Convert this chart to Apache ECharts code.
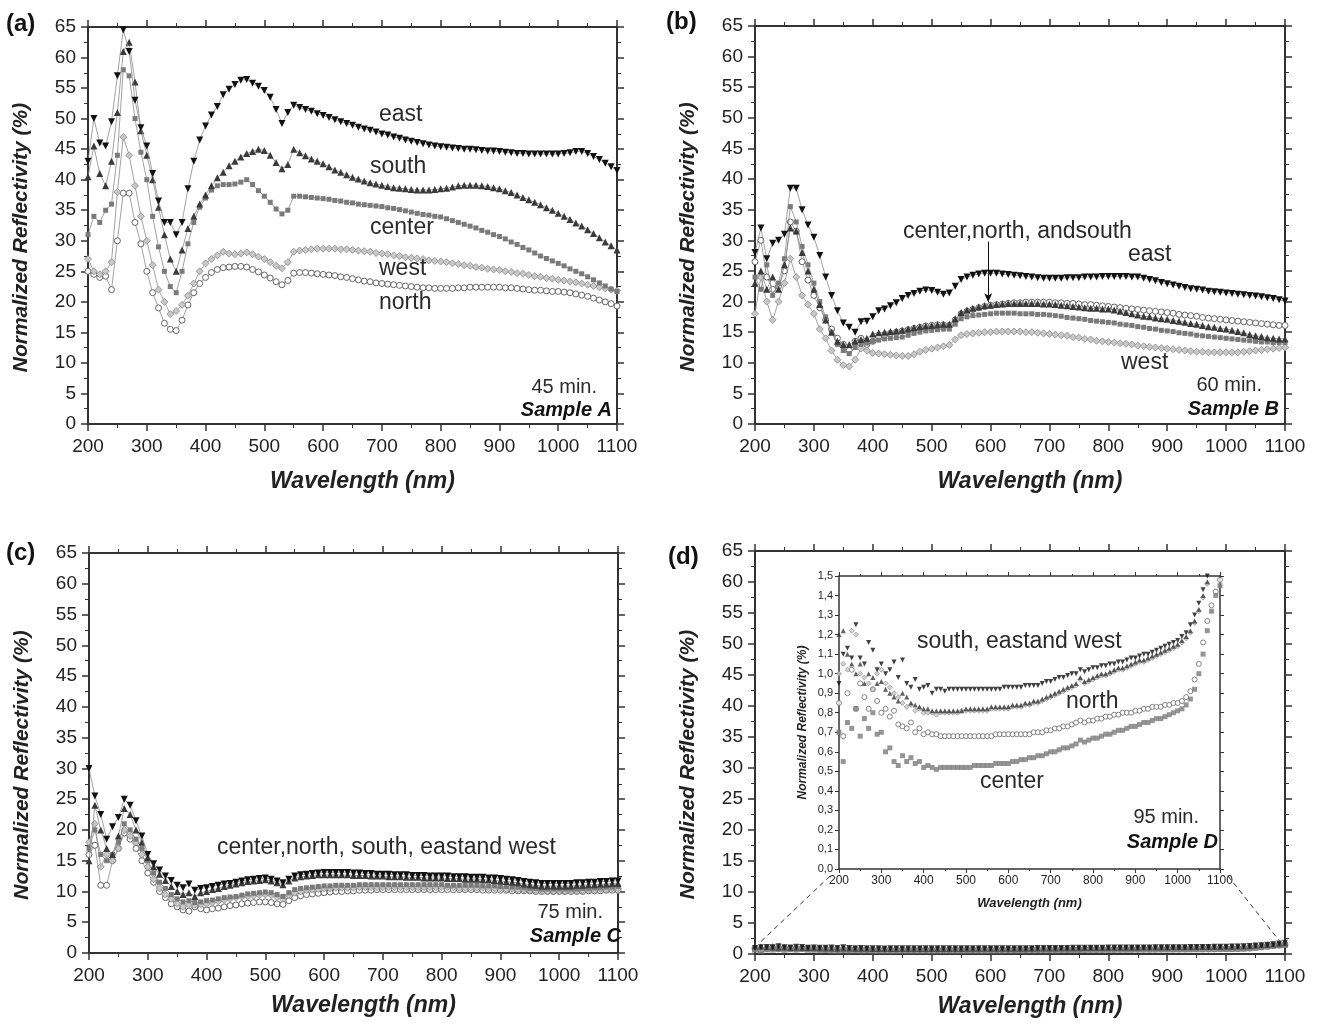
<!DOCTYPE html>
<html>
<head>
<meta charset="utf-8">
<title>Normalized reflectivity, samples A-D</title>
<script src="https://cdn.jsdelivr.net/npm/echarts@6/dist/echarts.min.js"></script>
<style>
  html, body { margin: 0; padding: 0; background: #fff; }
  #chart { width: 1325px; height: 1028px; }
</style>
</head>
<body>
<div id="chart"></div>
<script>
// wavelength grid (nm), shared by every series
const wl = [
  200, 210, 220, 230, 240, 250, 260, 270, 280, 290,
  300, 310, 320, 330, 340, 350, 360, 370, 380, 390,
  400, 410, 420, 430, 440, 450, 460, 470, 480, 490,
  500, 510, 520, 530, 540, 550, 560, 570, 580, 590,
  600, 610, 620, 630, 640, 650, 660, 670, 680, 690,
  700, 710, 720, 730, 740, 750, 760, 770, 780, 790,
  800, 810, 820, 830, 840, 850, 860, 870, 880, 890,
  900, 910, 920, 930, 940, 950, 960, 970, 980, 990,
  1000, 1010, 1020, 1030, 1040, 1050, 1060, 1070, 1080, 1090,
  1100
];

/* ---------------------------- (a) 45 min, Sample A ---------------------------- */
const aEast = [
  43, 50, 46, 45.5, 49.5, 57, 64.5, 61, 53, 48.5,
  45.5, 41, 36.5, 33, 33, 31, 33, 38.5, 43, 46.5,
  48.8, 50.6, 52, 53.9, 54.8, 55.6, 56.3, 56.4, 55.8, 55.3,
  54.6, 53.5, 51.5, 49.2, 51, 52.2, 51.8, 51.5, 51.2, 50.8,
  50.5, 50.2, 49.8, 49.5, 49.2, 48.9, 48.6, 48.3, 48.1, 47.8,
  47.5, 47.3, 47, 46.8, 46.5, 46.3, 46.1, 45.9, 45.7, 45.5,
  45.4, 45.3, 45.2, 45.1, 45, 45, 44.9, 44.8, 44.7, 44.7,
  44.6, 44.5, 44.4, 44.3, 44.3, 44.2, 44.2, 44.2, 44.2, 44.2,
  44.2, 44.3, 44.4, 44.6, 44.6, 44.3, 43.8, 43.3, 42.7, 42.1,
  41.5
];
const aSouth = [
  40.5, 45.5, 41, 39, 43, 51, 61, 62.5, 56, 48,
  44, 40, 35.5, 31, 27, 25, 28.5, 32, 34, 36,
  37.5, 39, 40.3, 41.2, 42.3, 43, 43.7, 44.3, 44.6, 45,
  44.8, 44, 42.8, 41.8, 42.5, 45, 44.4, 43.9, 43.4, 43,
  42.6, 42.1, 41.6, 41.2, 40.8, 40.4, 40.1, 39.8, 39.5, 39.3,
  39.1, 38.9, 38.7, 38.6, 38.5, 38.4, 38.3, 38.3, 38.3, 38.4,
  38.5, 38.6, 38.8, 39, 39.1, 39.1, 39.1, 39, 38.9, 38.7,
  38.5, 38.2, 37.9, 37.5, 37.1, 36.7, 36.3, 35.9, 35.4, 35,
  34.5, 34, 33.5, 32.9, 32.4, 31.8, 31.2, 30.5, 29.8, 29.2,
  28.5
];
const aCenter = [
  31, 34, 33, 35, 36, 44, 58, 57, 50, 44.5,
  40, 34, 29, 25, 22.5, 21.5, 25, 29.5, 33, 35.5,
  37, 38.3, 39, 39.2, 39.2, 39.3, 39.6, 40, 39.2, 38.2,
  37.3, 36.3, 35.2, 34.4, 35, 37.3, 37.3, 37.2, 37.1, 37,
  36.9, 36.8, 36.6, 36.5, 36.3, 36.2, 36, 35.9, 35.8, 35.7,
  35.6, 35.4, 35.3, 35.1, 34.9, 34.7, 34.5, 34.3, 34.2, 34,
  33.9, 33.6, 33.3, 33, 32.7, 32.4, 32.1, 31.7, 31.4, 31,
  30.7, 30.3, 29.8, 29.4, 28.9, 28.5, 28, 27.5, 27.1, 26.7,
  26.3, 25.9, 25.4, 25, 24.6, 24.1, 23.6, 23.1, 22.6, 22.1,
  21.7
];
const aWest = [
  27, 25, 24.5, 25, 26.5, 38, 47, 44, 39, 34,
  30, 26, 22, 20, 18, 18.5, 19.5, 21, 23, 25,
  26.3, 27, 27.6, 28.2, 27.9, 27.8, 27.9, 28.1, 27.8, 27.4,
  27, 26.5, 25.9, 25.5, 26.5, 28.2, 28.4, 28.5, 28.6, 28.7,
  28.7, 28.7, 28.7, 28.6, 28.6, 28.5, 28.4, 28.3, 28.2, 28,
  27.9, 27.8, 27.6, 27.5, 27.3, 27.2, 27.1, 27, 26.8, 26.7,
  26.6, 26.5, 26.3, 26.2, 26, 25.9, 25.7, 25.6, 25.4, 25.3,
  25.2, 25, 24.9, 24.7, 24.6, 24.4, 24.2, 24.1, 23.9, 23.8,
  23.6, 23.5, 23.3, 23.2, 23, 22.8, 22.6, 22.4, 22.2, 22,
  21.8
];
const aNorth = [
  25, 24.5, 24, 24.2, 22, 30, 37.8, 37.8, 33, 29.5,
  25, 21.5, 19, 16.5, 15.5, 15.3, 17, 19.5, 21.5, 23,
  24, 24.8, 25.3, 25.6, 25.7, 25.8, 25.8, 25.7, 25.3, 24.9,
  24.4, 23.9, 23.3, 22.8, 23.5, 24.7, 24.8, 24.8, 24.7, 24.6,
  24.5, 24.4, 24.3, 24.1, 24, 23.8, 23.6, 23.4, 23.3, 23.1,
  23, 22.9, 22.8, 22.7, 22.6, 22.5, 22.4, 22.3, 22.3, 22.2,
  22.2, 22.2, 22.2, 22.3, 22.3, 22.4, 22.4, 22.4, 22.4, 22.4,
  22.4, 22.3, 22.3, 22.2, 22.1, 22, 21.9, 21.9, 21.8, 21.7,
  21.7, 21.6, 21.5, 21.3, 21.1, 20.9, 20.6, 20.3, 20, 19.7,
  19.3
];

/* ---------------------------- (b) 60 min, Sample B ---------------------------- */
const bEast = [
  28, 32, 27, 29.5, 30, 31, 38.5, 38.5, 35, 32.5,
  30.5, 27.5, 24, 21, 18.5, 16.5, 15.8, 15, 16.7, 16.8,
  17.5, 18.5, 18.8, 19.3, 19.8, 20.5, 21, 21.3, 21.7, 21.9,
  21.8, 21.5, 21.2, 21.4, 22.5, 23.6, 24, 24.3, 24.5, 24.6,
  24.6, 24.6, 24.5, 24.4, 24.3, 24.2, 24.1, 24, 23.9, 23.8,
  23.8, 23.8, 23.8, 23.9, 23.9, 23.9, 24, 24, 24, 24.1,
  24.1, 24.1, 24.1, 24.1, 24, 24, 23.8, 23.6, 23.4, 23.1,
  22.9, 22.7, 22.5, 22.3, 22.1, 22, 21.9, 21.7, 21.6, 21.5,
  21.4, 21.3, 21.2, 21.1, 21, 20.9, 20.8, 20.6, 20.5, 20.3,
  20.1
];
const bSouth = [
  23, 25, 22, 24, 22, 26, 32, 31.5, 28, 25,
  22, 19.5, 17, 15, 13.5, 13, 13, 13.5, 13.8, 14,
  14.7, 14.9, 15, 15.1, 15.2, 15.3, 15.5, 15.7, 15.9, 16,
  16.1, 16.2, 16.3, 16.3, 17.2, 18.2, 18.6, 18.9, 19.1, 19.3,
  19.4, 19.5, 19.6, 19.7, 19.7, 19.7, 19.7, 19.7, 19.7, 19.6,
  19.6, 19.5, 19.4, 19.3, 19.2, 19.1, 19, 18.9, 18.9, 18.8,
  18.8, 18.6, 18.4, 18.2, 18, 17.8, 17.6, 17.5, 17.3, 17.2,
  17.1, 16.9, 16.8, 16.6, 16.4, 16.3, 16.1, 15.9, 15.8, 15.6,
  15.5, 15.3, 15.1, 14.9, 14.6, 14.4, 14.3, 14.1, 14, 13.9,
  13.9
];
const bCenter = [
  24, 22, 26, 21, 23, 27, 35.5, 33, 29, 26,
  23, 20, 17.5, 15, 13, 12, 11.5, 12.5, 13, 13.2,
  13.5, 13.7, 13.9, 14, 14.1, 14.2, 14.5, 14.8, 15, 15.2,
  15.3, 15.4, 15.5, 15.5, 16.3, 17.2, 17.5, 17.7, 17.8, 17.9,
  18, 18.1, 18.1, 18.1, 18.1, 18, 18, 18, 17.9, 17.9,
  17.8, 17.7, 17.6, 17.4, 17.3, 17.2, 17.1, 16.9, 16.8, 16.7,
  16.6, 16.5, 16.3, 16.2, 16.1, 15.9, 15.8, 15.6, 15.5, 15.3,
  15.2, 15.1, 14.9, 14.8, 14.7, 14.5, 14.4, 14.3, 14.2, 14.1,
  14, 13.9, 13.8, 13.7, 13.6, 13.5, 13.4, 13.4, 13.3, 13.3,
  13.3
];
const bWest = [
  18, 24, 20, 17, 20, 23, 27, 24, 21, 19.5,
  18, 15.5, 14, 12, 10.5, 9.6, 9.4, 10.5, 12.3, 12,
  11.6, 11.5, 11.4, 11.3, 11.2, 11.1, 11.1, 11.4, 11.8, 12.1,
  12.3, 12.5, 12.7, 12.9, 13.8, 14.5, 14.7, 14.8, 14.9, 15,
  15, 15.1, 15.1, 15.1, 15.1, 15.1, 15, 15, 14.9, 14.8,
  14.7, 14.6, 14.5, 14.4, 14.2, 14.1, 13.9, 13.8, 13.6, 13.5,
  13.4, 13.3, 13.2, 13.1, 13, 12.8, 12.7, 12.6, 12.5, 12.4,
  12.3, 12.2, 12.1, 12, 11.9, 11.8, 11.8, 11.7, 11.7, 11.7,
  11.7, 11.7, 11.7, 11.8, 11.9, 12, 12.1, 12.2, 12.3, 12.4,
  12.5
];
const bNorth = [
  26.5, 30, 24, 22, 22.5, 25, 33, 31.5, 26.5, 23.5,
  21, 19, 17, 15.5, 14, 13, 12, 13.5, 14, 13,
  13.5, 14.2, 14.5, 14.8, 15, 15.2, 15.4, 15.6, 15.8, 16,
  16.1, 16.2, 16.2, 16.1, 17, 18, 18.4, 18.7, 19, 19.2,
  19.4, 19.5, 19.6, 19.7, 19.8, 19.8, 19.9, 19.9, 19.9, 19.9,
  19.9, 19.8, 19.8, 19.7, 19.7, 19.6, 19.5, 19.5, 19.4, 19.3,
  19.2, 19.1, 19, 18.9, 18.8, 18.7, 18.6, 18.5, 18.4, 18.3,
  18.2, 18.1, 17.9, 17.8, 17.7, 17.6, 17.4, 17.3, 17.2, 17.1,
  17, 16.9, 16.8, 16.7, 16.6, 16.5, 16.4, 16.3, 16.2, 16.1,
  16.1
];

/* ---------------------------- (c) 75 min, Sample C ---------------------------- */
const cEast = [
  30, 25.5, 22.5, 18.5, 20.5, 22, 25, 24, 21.5, 19,
  16, 14.5, 13.5, 12.5, 11.8, 11, 10.6, 11.2, 10.2, 10.5,
  10.6, 10.8, 11, 11.2, 11.3, 11.5, 11.7, 11.9, 12, 12.1,
  12.2, 12, 11.7, 11.4, 12, 12.5, 12.7, 12.8, 12.9, 13,
  13.1, 13.1, 13.1, 13.1, 13.1, 13, 13, 12.9, 12.9, 12.8,
  12.8, 12.8, 12.7, 12.7, 12.7, 12.6, 12.6, 12.6, 12.5, 12.5,
  12.5, 12.5, 12.4, 12.4, 12.4, 12.3, 12.3, 12.3, 12.2, 12.2,
  12.1, 12, 11.9, 11.8, 11.6, 11.5, 11.4, 11.3, 11.3, 11.3,
  11.3, 11.3, 11.3, 11.4, 11.4, 11.5, 11.5, 11.6, 11.6, 11.7,
  11.7
];
const cSouth = [
  15, 24, 20, 17, 16, 19, 23.5, 22.5, 20, 18,
  15.5, 14, 12.8, 11.8, 10.8, 10, 9.5, 9.8, 9.2, 9.8,
  10, 10.3, 10.5, 10.8, 11, 11.2, 11.4, 11.6, 11.7, 11.8,
  11.9, 11.7, 11.4, 11.1, 11.7, 12.2, 12.4, 12.5, 12.6, 12.7,
  12.7, 12.7, 12.7, 12.7, 12.7, 12.6, 12.6, 12.6, 12.5, 12.5,
  12.5, 12.4, 12.4, 12.4, 12.3, 12.3, 12.3, 12.2, 12.2, 12.2,
  12.2, 12.1, 12.1, 12.1, 12, 12, 12, 11.9, 11.9, 11.8,
  11.7, 11.6, 11.5, 11.4, 11.2, 11.1, 11, 10.9, 10.9, 10.9,
  10.9, 10.9, 10.9, 11, 11, 11.1, 11.1, 11.2, 11.2, 11.3,
  11.3
];
const cCenter = [
  17, 20, 16, 15, 16, 18, 21, 20, 18.5, 17,
  15, 13, 11.5, 10.5, 9.5, 8.8, 8.3, 8.5, 8.2, 8.3,
  8.5, 8.6, 8.8, 9, 9.1, 9.2, 9.4, 9.6, 9.7, 9.8,
  9.9, 9.8, 9.5, 9.2, 9.8, 10.3, 10.5, 10.6, 10.7, 10.8,
  10.9, 10.9, 11, 11, 11, 11, 11.1, 11.1, 11.1, 11.1,
  11.1, 11.1, 11.1, 11.1, 11.1, 11.1, 11.1, 11.1, 11.1, 11.1,
  11.1, 11, 11, 11, 11, 11, 11, 10.9, 10.9, 10.9,
  10.8, 10.8, 10.7, 10.7, 10.6, 10.5, 10.5, 10.4, 10.4, 10.4,
  10.4, 10.4, 10.4, 10.4, 10.5, 10.5, 10.6, 10.6, 10.7, 10.7,
  10.8
];
const cWest = [
  18, 21, 14, 16, 15, 17, 20, 19, 18, 16,
  14, 12, 10.5, 9.5, 8.8, 8, 7.5, 7.8, 7.8, 7.9,
  8, 8.2, 8.4, 8.6, 8.8, 9, 9.1, 9.2, 9.3, 9.4,
  9.5, 9.4, 9.1, 8.8, 9.4, 9.8, 10, 10.2, 10.3, 10.4,
  10.5, 10.5, 10.6, 10.6, 10.6, 10.6, 10.7, 10.7, 10.7, 10.7,
  10.7, 10.7, 10.7, 10.7, 10.7, 10.7, 10.7, 10.7, 10.7, 10.7,
  10.7, 10.7, 10.7, 10.6, 10.6, 10.6, 10.6, 10.6, 10.5, 10.5,
  10.5, 10.4, 10.4, 10.3, 10.3, 10.2, 10.2, 10.2, 10.1, 10.1,
  10.1, 10.1, 10.2, 10.2, 10.2, 10.3, 10.3, 10.4, 10.4, 10.5,
  10.5
];
const cNorth = [
  16, 17.5, 11, 11, 15, 17, 19.5, 18.5, 17, 15,
  13, 11.5, 10, 9, 8, 7.5, 7, 6.8, 7.5, 7.2,
  7, 7.2, 7.3, 7.5, 7.7, 7.8, 8, 8.1, 8.2, 8.3,
  8.3, 8.2, 8, 7.9, 8.5, 9, 9.3, 9.5, 9.6, 9.7,
  9.8, 9.9, 10, 10, 10.1, 10.1, 10.2, 10.2, 10.2, 10.3,
  10.3, 10.3, 10.3, 10.3, 10.3, 10.3, 10.3, 10.3, 10.3, 10.3,
  10.3, 10.3, 10.3, 10.3, 10.3, 10.3, 10.3, 10.2, 10.2, 10.2,
  10.2, 10.2, 10.1, 10.1, 10.1, 10.1, 10, 10, 10, 10,
  10, 10, 10, 10, 10, 10.1, 10.1, 10.1, 10.2, 10.2,
  10.2
];

/* ---------------------------- (d) 95 min, Sample D ---------------------------- */
const dEast = [
  0.95, 1.1, 1.13, 1.08, 1.25, 1.08, 1.05, 1.16, 1.12, 1.02,
  1.05, 1.0, 1.02, 1.06, 0.98, 1.07, 0.95, 0.93, 0.97, 0.92,
  0.93, 0.94, 0.9, 0.92, 0.92, 0.91, 0.92, 0.92, 0.92, 0.92,
  0.92, 0.92, 0.92, 0.92, 0.92, 0.92, 0.92, 0.92, 0.92, 0.93,
  0.93, 0.93, 0.93, 0.93, 0.94, 0.94, 0.94, 0.94, 0.95, 0.96,
  0.96, 0.97, 0.98, 0.98, 0.99, 1.0, 1.0, 1.02, 1.01, 1.02,
  1.03, 1.03, 1.04, 1.04, 1.05, 1.05, 1.06, 1.06, 1.07, 1.08,
  1.08, 1.09, 1.1, 1.1, 1.11, 1.12, 1.13, 1.14, 1.15, 1.16,
  1.17, 1.19, 1.21, 1.25, 1.3, 1.36, 1.43, 1.5, 1.58, 1.68,
  1.8
];
const dSouth = [
  1.2, 1.22, 1.1, 1.05, 1.0, 1.05, 0.95, 1.0, 0.98, 0.95,
  0.96, 0.92, 0.9, 0.88, 0.86, 0.9, 0.88, 0.85, 0.84, 0.83,
  0.82, 0.82, 0.81, 0.81, 0.81, 0.81, 0.81, 0.81, 0.81, 0.81,
  0.82, 0.82, 0.82, 0.82, 0.82, 0.82, 0.83, 0.83, 0.83, 0.83,
  0.83, 0.84, 0.84, 0.84, 0.85, 0.85, 0.86, 0.86, 0.87, 0.88,
  0.89, 0.9, 0.91, 0.92, 0.93, 0.94, 0.95, 0.98, 0.96, 0.97,
  0.98, 0.99, 1.0, 1.0, 1.01, 1.02, 1.03, 1.03, 1.04, 1.05,
  1.06, 1.07, 1.07, 1.08, 1.09, 1.1, 1.11, 1.12, 1.13, 1.14,
  1.15, 1.17, 1.19, 1.22, 1.27, 1.33, 1.4, 1.47, 1.55, 1.65,
  1.75
];
const dWest = [
  1.0, 1.05, 1.02, 1.22, 1.2, 1.0, 0.98, 0.95, 0.92, 1.0,
  1.02, 0.95, 0.93, 0.9, 0.88, 0.85, 0.83, 0.84, 0.81, 0.82,
  0.8, 0.8, 0.8, 0.79, 0.8, 0.8, 0.8, 0.8, 0.8, 0.81,
  0.81, 0.81, 0.81, 0.81, 0.81, 0.81, 0.82, 0.82, 0.82, 0.82,
  0.82, 0.83, 0.83, 0.83, 0.84, 0.84, 0.85, 0.85, 0.86, 0.87,
  0.88, 0.89, 0.9, 0.91, 0.92, 0.93, 0.94, 0.97, 0.95, 0.96,
  0.97, 0.98, 0.99, 0.99, 1.0, 1.01, 1.02, 1.02, 1.03, 1.04,
  1.05, 1.06, 1.06, 1.07, 1.08, 1.09, 1.1, 1.11, 1.12, 1.13,
  1.14, 1.16, 1.18, 1.21, 1.26, 1.32, 1.39, 1.46, 1.54, 1.64,
  1.74
];
const dNorth = [
  0.85, 0.68, 0.9, 1.02, 0.82, 0.95, 0.88, 0.82, 0.92, 0.86,
  0.8, 0.82, 0.78, 0.81, 0.74, 0.73, 0.72, 0.75, 0.7, 0.72,
  0.69, 0.7, 0.69, 0.69, 0.68, 0.68, 0.68, 0.68, 0.68, 0.68,
  0.68, 0.68, 0.68, 0.68, 0.68, 0.68, 0.68, 0.69, 0.69, 0.69,
  0.69, 0.69, 0.69, 0.69, 0.69, 0.69, 0.7, 0.7, 0.7, 0.71,
  0.71, 0.72, 0.72, 0.73, 0.73, 0.74, 0.75, 0.76, 0.75, 0.76,
  0.76, 0.77, 0.77, 0.78, 0.78, 0.79, 0.79, 0.8, 0.8, 0.8,
  0.81, 0.81, 0.82, 0.82, 0.83, 0.83, 0.83, 0.84, 0.84, 0.85,
  0.85, 0.86, 0.88, 0.91, 0.97, 1.05, 1.16, 1.27, 1.35, 1.42,
  1.48
];
const dCenter = [
  0.7, 0.55, 0.75, 0.72, 0.82, 0.68, 0.77, 0.72, 0.8, 0.69,
  0.7, 0.6, 0.62, 0.55, 0.53, 0.58, 0.55, 0.57, 0.54, 0.55,
  0.52, 0.53, 0.52, 0.51, 0.52, 0.52, 0.52, 0.52, 0.52, 0.52,
  0.52, 0.52, 0.53, 0.53, 0.53, 0.53, 0.53, 0.54, 0.54, 0.54,
  0.54, 0.55, 0.55, 0.56, 0.56, 0.57, 0.57, 0.58, 0.58, 0.59,
  0.6, 0.6, 0.61, 0.62, 0.62, 0.63, 0.64, 0.66, 0.65, 0.66,
  0.67, 0.67, 0.68, 0.69, 0.69, 0.7, 0.71, 0.71, 0.72, 0.73,
  0.73, 0.74, 0.75, 0.75, 0.76, 0.77, 0.77, 0.78, 0.79, 0.8,
  0.81, 0.82, 0.84, 0.87, 0.92, 1.0, 1.1, 1.22, 1.32, 1.4,
  1.45
];

const FONT = '"Liberation Sans", Arial, Helvetica, sans-serif';
const INK = '#222';
const AXIS = '#333';

// main panels (a) (b) (c) (d), then the inset of (d)
const grids = [
  { left: 88, top: 27, width: 529, height: 397 },
  { left: 755, top: 26, width: 530, height: 398 },
  { left: 89, top: 553, width: 529, height: 400 },
  { left: 755, top: 551, width: 530, height: 403 },
  { left: 839, top: 576, width: 381, height: 293 }
];

const markers = {
  east: { symbol: 'triangle', symbolRotate: 180, symbolSize: 7, itemStyle: { color: '#111' } },
  south: { symbol: 'triangle', symbolSize: 7, itemStyle: { color: '#3a3a3a' } },
  center: { symbol: 'rect', symbolSize: 5, itemStyle: { color: '#7a7a7a' } },
  west: { symbol: 'diamond', symbolSize: 7, itemStyle: { color: '#c8c8c8', borderColor: '#888', borderWidth: 0.8 } },
  north: { symbol: 'circle', symbolSize: 6, itemStyle: { color: '#fff', borderColor: '#666', borderWidth: 1 } }
};

const zip = ys => wl.map((x, i) => [x, ys[i]]);
const plain = v => String(v);

function xAxes(gi, small, nameGap) {
  const base = {
    gridIndex: gi, type: 'value', min: 200, max: 1100, interval: 100,
    splitLine: { show: false },
    axisLine: { onZero: false, lineStyle: { color: AXIS, width: small ? 1.5 : 2 } },
    axisTick: { length: small ? 4 : 7, lineStyle: { color: AXIS, width: small ? 1 : 1.5 } },
    minorTick: { show: true, splitNumber: 2, length: small ? 2 : 4, lineStyle: { color: AXIS, width: 1 } }
  };
  return [
    {
      ...base, position: 'bottom',
      name: 'Wavelength (nm)', nameLocation: 'middle', nameGap: nameGap,
      nameTextStyle: {
        fontFamily: FONT, fontSize: small ? 13 : 23, fontWeight: 'bold', fontStyle: 'italic', color: INK,
        padding: small ? 0 : [0, 0, 0, 20]
      },
      axisLabel: { fontFamily: FONT, fontSize: small ? 12 : 19, color: INK, margin: small ? 6 : 13, formatter: plain }
    },
    { ...base, position: 'top', axisLabel: { show: false } }
  ];
}

function yAxes(gi, small) {
  const base = {
    gridIndex: gi, type: 'value', min: 0,
    max: small ? 1.5 : 65, interval: small ? 0.1 : 5,
    splitLine: { show: false },
    axisLine: { onZero: false, lineStyle: { color: AXIS, width: small ? 1.5 : 2 } },
    axisTick: { length: small ? 4 : 7, lineStyle: { color: AXIS, width: small ? 1 : 1.5 } },
    minorTick: { show: !small, splitNumber: 2, length: 4, lineStyle: { color: AXIS, width: 1 } }
  };
  return [
    {
      ...base, position: 'left',
      name: 'Normalized Reflectivity (%)', nameLocation: 'middle', nameGap: small ? 30 : 56,
      nameTextStyle: {
        fontFamily: FONT, fontSize: small ? 12 : 21, fontWeight: 'bold', fontStyle: 'italic', color: INK,
        padding: small ? 0 : [0, 24, 0, 0]
      },
      axisLabel: {
        fontFamily: FONT, fontSize: small ? 11 : 19, color: INK, margin: small ? 6 : 12,
        formatter: small ? (v => v.toFixed(1).replace('.', ',')) : plain
      }
    },
    { ...base, position: 'right', axisLabel: { show: false } }
  ];
}

const order = ['north', 'west', 'center', 'south', 'east'];

function panelSeries(gi, sets, type, size) {
  return order.filter(k => sets[k]).map(k => ({
    name: k, type: type,
    xAxisIndex: 2 * gi, yAxisIndex: 2 * gi,
    data: zip(sets[k]),
    ...markers[k],
    symbolSize: size || markers[k].symbolSize,
    showAllSymbol: true,
    lineStyle: { color: '#8a8a8a', width: 0.8 },
    z: 2 + order.indexOf(k)
  }));
}

const seriesA = panelSeries(0, { east: aEast, south: aSouth, center: aCenter, west: aWest, north: aNorth }, 'line');
const seriesB = panelSeries(1, { east: bEast, south: bSouth, center: bCenter, west: bWest, north: bNorth }, 'line');
const seriesC = panelSeries(2, { east: cEast, south: cSouth, center: cCenter, west: cWest, north: cNorth }, 'line');
const seriesD = panelSeries(3, { east: dEast, south: dSouth, center: dCenter, west: dWest, north: dNorth }, 'scatter', 6);
const seriesInset = panelSeries(4, { east: dEast, south: dSouth, center: dCenter, west: dWest, north: dNorth }, 'scatter', 5);

// arrow from the (b) label down to the grouped curves
seriesB[seriesB.length - 1].markLine = {
  silent: true, animation: false,
  symbol: ['none', 'arrow'], symbolSize: [6, 9],
  lineStyle: { color: '#111', width: 1, type: 'solid' },
  label: { show: false },
  data: [[{ coord: [596, 29.8] }, { coord: [596, 19.9] }]]
};

function txt(id, text, x, y, size, opts) {
  opts = opts || {};
  return {
    type: 'text', id: id, z: 50,
    style: {
      text: text, x: x, y: y,
      font: (opts.weight || 'normal') + ' ' + (opts.italic ? 'italic ' : '') + size + 'px ' + FONT,
      fill: opts.fill || '#2a2a2a',
      align: opts.align || 'left', verticalAlign: 'middle'
    }
  };
}

const labels = [
  txt('pa', '(a)', 6, 24, 24, { weight: 'bold', fill: '#111' }),
  txt('pb', '(b)', 666, 22, 24, { weight: 'bold', fill: '#111' }),
  txt('pc', '(c)', 6, 553, 24, { weight: 'bold', fill: '#111' }),
  txt('pd', '(d)', 668, 557, 24, { weight: 'bold', fill: '#111' }),

  txt('a1', 'east', 379, 115, 23),
  txt('a2', 'south', 370, 167, 23),
  txt('a3', 'center', 370, 228, 23),
  txt('a4', 'west', 379, 269, 23),
  txt('a5', 'north', 379, 303, 23),
  txt('a6', '45 min.', 597, 387, 20, { align: 'right' }),
  txt('a7', 'Sample A', 612, 410, 20, { align: 'right', weight: 'bold', italic: true, fill: '#111' }),

  txt('b1', 'center,north, andsouth', 903, 232, 23),
  txt('b2', 'east', 1128, 255, 23),
  txt('b3', 'west', 1121, 363, 23),
  txt('b4', '60 min.', 1262, 385, 20, { align: 'right' }),
  txt('b5', 'Sample B', 1279, 409, 20, { align: 'right', weight: 'bold', italic: true, fill: '#111' }),

  txt('c1', 'center,north, south, eastand west', 217, 848, 23),
  txt('c2', '75 min.', 603, 912, 20, { align: 'right' }),
  txt('c3', 'Sample C', 621, 936, 20, { align: 'right', weight: 'bold', italic: true, fill: '#111' }),

  txt('d1', 'south, eastand west', 917, 642, 23),
  txt('d2', 'north', 1066, 702, 23),
  txt('d3', 'center', 980, 782, 23),
  txt('d4', '95 min.', 1199, 817, 20, { align: 'right' }),
  txt('d5', 'Sample D', 1218, 842, 20, { align: 'right', weight: 'bold', italic: true, fill: '#111' })
];

const xAxisList = [].concat(xAxes(0, false, 46), xAxes(1, false, 46), xAxes(2, false, 41), xAxes(3, false, 41), xAxes(4, true, 28));
const yAxisList = [].concat(yAxes(0, false), yAxes(1, false), yAxes(2, false), yAxes(3, false), yAxes(4, true));

const chart = echarts.init(document.getElementById('chart'));
chart.setOption({
  animation: false,
  backgroundColor: '#fff',
  textStyle: { fontFamily: FONT },
  grid: grids.map(g => ({ ...g, show: false })),
  xAxis: xAxisList,
  yAxis: yAxisList,
  series: [].concat(seriesA, seriesB, seriesC, seriesD, seriesInset),
  graphic: labels
});

// dashed zoom guides from the inset corners down to the magnified strip of (d)
const insetBL = chart.convertToPixel({ xAxisIndex: 8, yAxisIndex: 8 }, [200, 0]);
const insetBR = chart.convertToPixel({ xAxisIndex: 8, yAxisIndex: 8 }, [1100, 0]);
const mainL = chart.convertToPixel({ xAxisIndex: 6, yAxisIndex: 6 }, [210, 2]);
const mainR = chart.convertToPixel({ xAxisIndex: 6, yAxisIndex: 6 }, [1090, 2.2]);
const dash = { stroke: '#333', lineWidth: 1, lineDash: [5, 4] };
chart.setOption({
  graphic: [
    { type: 'line', id: 'guideL', z: 40, shape: { x1: insetBL[0] - 9, y1: insetBL[1] + 7, x2: mainL[0], y2: mainL[1] }, style: dash },
    { type: 'line', id: 'guideR', z: 40, shape: { x1: insetBR[0] + 8, y1: insetBR[1] + 7, x2: mainR[0], y2: mainR[1] }, style: dash }
  ]
});
</script>
</body>
</html>
